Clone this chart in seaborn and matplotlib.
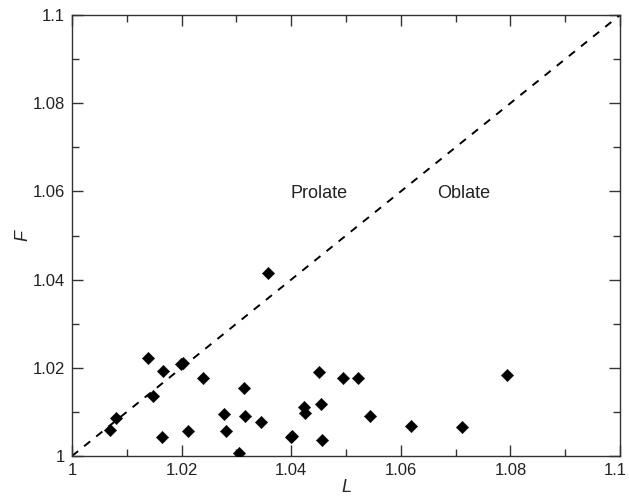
import matplotlib
matplotlib.use("Agg")
import matplotlib.pyplot as plt
import matplotlib.transforms as mtransforms
import seaborn as sns
import pandas as pd
from matplotlib.ticker import MultipleLocator, FixedLocator, FixedFormatter

L = [1.0069, 1.0080, 1.0139, 1.0147, 1.0164, 1.0166, 1.0198, 1.0202, 1.0212, 1.0239,
     1.0277, 1.0281, 1.0305, 1.0313, 1.0316, 1.0345, 1.0358, 1.0399, 1.0402, 1.0423,
     1.0425, 1.0450, 1.0454, 1.0456, 1.0495, 1.0522, 1.0543, 1.0618, 1.0711, 1.0793]
F = [1.0059, 1.0087, 1.0222, 1.0137, 1.0042, 1.0193, 1.0208, 1.0212, 1.0057, 1.0178,
     1.0095, 1.0057, 1.0006, 1.0155, 1.0091, 1.0077, 1.0414, 1.0042, 1.0046, 1.0112,
     1.0097, 1.0191, 1.0118, 1.0036, 1.0178, 1.0176, 1.0091, 1.0069, 1.0065, 1.0184]

tick_vals = [1.0, 1.02, 1.04, 1.06, 1.08, 1.1]
tick_labels = ["1", "1.02", "1.04", "1.06", "1.08", "1.1"]
line_ends = [1.0, 1.1]

sns.set_theme(style="ticks")
plt.rcParams['font.family'] = ['Liberation Sans', 'DejaVu Sans']

df = pd.DataFrame({"L": L, "F": F})

fig = plt.figure(figsize=(6.29, 5.0), dpi=100)
ax = fig.add_axes([72/629, 44/500, 548/629, 441/500])

sns.lineplot(x=line_ends, y=line_ends, ax=ax, color="black", lw=1.4,
             linestyle=(0, (4, 4)))
sns.scatterplot(data=df, x="L", y="F", ax=ax, marker="D", s=40,
                color="black", edgecolor="black", linewidth=0.3, zorder=3)

ax.set_xlim(1.0, 1.1)
ax.set_ylim(1.0, 1.1)
for axis in (ax.xaxis, ax.yaxis):
    axis.set_major_locator(FixedLocator(tick_vals))
    axis.set_major_formatter(FixedFormatter(tick_labels))
    axis.set_minor_locator(MultipleLocator(0.01))
ax.tick_params(which="both", direction="in", top=True, right=True,
               labeltop=False, labelright=False, color="#333333",
               labelsize=12, labelcolor="#222222", width=1.0)
ax.tick_params(which="major", length=8, pad=5)
ax.tick_params(which="minor", length=5)
for sp in ax.spines.values():
    sp.set_linewidth(1.0)
    sp.set_color("#333333")

ax.set_xlabel("L", fontstyle="italic", fontsize=13, labelpad=1)
ax.set_ylabel("F", fontstyle="italic", fontsize=13, labelpad=1)

ax.text(1.0451, 1.0596, "Prolate", ha="center", va="center", fontsize=13, color="#222222")
ax.text(1.0715, 1.0596, "Oblate", ha="center", va="center", fontsize=13, color="#222222")

fig.canvas.draw()
last = ax.get_xticklabels()[-1]
last.set_transform(last.get_transform() +
                   mtransforms.ScaledTranslation(-5/100, 0, fig.dpi_scale_trans))

fig.savefig("out.png", dpi=100)
